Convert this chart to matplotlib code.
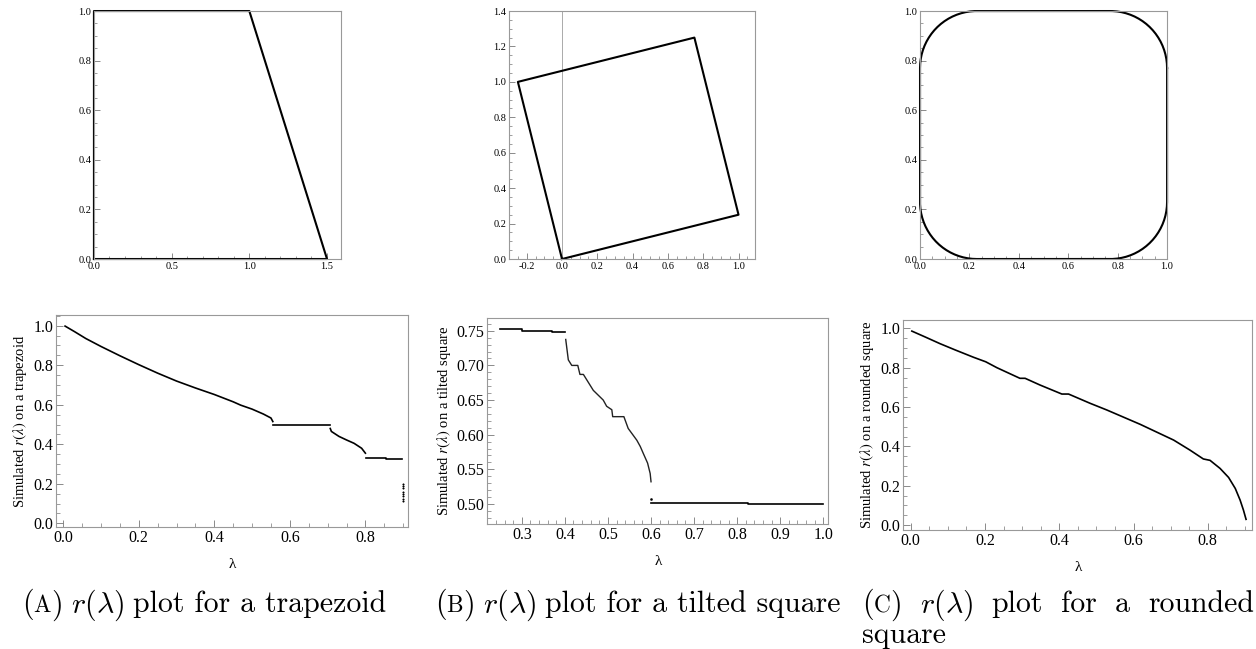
import numpy as np
import matplotlib.pyplot as plt
from matplotlib.ticker import MultipleLocator, FormatStrFormatter
from matplotlib.offsetbox import TextArea, HPacker, AnnotationBbox

plt.rcParams['font.family'] = ['Liberation Serif', 'DejaVu Serif']

# top row: the three shapes
trap_x = [0, 0, 1, 1.5, 0]
trap_y = [0, 1, 1, 0, 0]
tilt_x = [0, 1, 0.75, -0.25, 0]
tilt_y = [0, 0.25, 1.25, 1, 0]
round_r = 0.23  # corner radius of the rounded square

# bottom row: simulated r(lambda)
# trapezoid
tr_x1 = [0.005, 0.03, 0.06, 0.1, 0.15, 0.2, 0.25, 0.3, 0.35, 0.4, 0.45, 0.47, 0.5, 0.53, 0.55, 0.555]
tr_y1 = [0.998, 0.97, 0.935, 0.895, 0.848, 0.803, 0.76, 0.72, 0.685, 0.652, 0.615, 0.598, 0.578, 0.553, 0.533, 0.515]
tr_x2 = [0.555, 0.707]
tr_y2 = [0.50, 0.50]
tr_x3 = [0.707, 0.71, 0.73, 0.75, 0.77, 0.79, 0.80]
tr_y3 = [0.48, 0.465, 0.44, 0.422, 0.405, 0.38, 0.355]
tr_x4 = [0.802, 0.855, 0.855, 0.898]
tr_y4 = [0.333, 0.333, 0.328, 0.328]
tr_dot_x = [0.9, 0.9, 0.9, 0.9, 0.9, 0.9, 0.9, 0.9]
tr_dot_y = [0.199, 0.188, 0.177, 0.158, 0.148, 0.138, 0.125, 0.115]

# tilted square
ts_x1 = [0.25, 0.30, 0.30, 0.37, 0.37, 0.40]
ts_y1 = [0.752, 0.752, 0.750, 0.750, 0.748, 0.748]
ts_x2 = [0.402, 0.408, 0.416, 0.430, 0.435, 0.443, 0.466, 0.489, 0.497, 0.509, 0.511,
         0.537, 0.547, 0.567, 0.575, 0.582, 0.592, 0.598, 0.600]
ts_y2 = [0.7375, 0.708, 0.700, 0.700, 0.687, 0.687, 0.664, 0.650, 0.641, 0.636, 0.626,
         0.626, 0.609, 0.592, 0.583, 0.573, 0.559, 0.544, 0.532]
ts_dot_x = [0.600]
ts_dot_y = [0.507]
ts_x3 = [0.60, 0.825, 0.825, 1.0]
ts_y3 = [0.502, 0.502, 0.4995, 0.4995]

# rounded square
rs_x = [0.003, 0.039, 0.079, 0.12, 0.169, 0.202, 0.232, 0.294, 0.308, 0.348, 0.407, 0.425, 0.483,
        0.528, 0.618, 0.708, 0.752, 0.788, 0.806, 0.833, 0.856, 0.874, 0.887, 0.896, 0.903]
rs_y = [0.986, 0.956, 0.922, 0.89, 0.853, 0.830, 0.800, 0.746, 0.746, 0.712, 0.666, 0.666, 0.619,
        0.585, 0.512, 0.432, 0.381, 0.336, 0.329, 0.288, 0.242, 0.186, 0.127, 0.076, 0.029]

frame_col = '#999999'


def style(ax, fs, maj, mino):
	for s in ax.spines.values():
		s.set_color(frame_col)
		s.set_linewidth(0.8)
	ax.tick_params(which='both', direction='in', top=False, right=False,
				   color='#777777', labelsize=fs, pad=2)
	ax.tick_params(which='major', length=maj, width=0.6)
	ax.tick_params(which='minor', length=mino, width=0.5)


fig = plt.figure(figsize=(12.56, 6.49), dpi=100)

# (top) trapezoid
ax = fig.add_axes([0.0748, 0.6009, 0.1967, 0.3821])
ax.plot(trap_x, trap_y, color='black', lw=1.5, clip_on=False)
ax.set_xlim(0, 1.59)
ax.set_ylim(0, 1)
ax.xaxis.set_major_locator(MultipleLocator(0.5))
ax.xaxis.set_minor_locator(MultipleLocator(0.1))
ax.yaxis.set_major_locator(MultipleLocator(0.2))
ax.yaxis.set_minor_locator(MultipleLocator(0.05))
ax.xaxis.set_major_formatter(FormatStrFormatter('%.1f'))
ax.yaxis.set_major_formatter(FormatStrFormatter('%.1f'))
style(ax, 7.5, 4, 2)

# (top) tilted square
ax = fig.add_axes([0.4053, 0.6009, 0.1959, 0.3821])
ax.axvline(0, color='#aaaaaa', lw=0.7)
ax.plot(tilt_x, tilt_y, color='black', lw=1.5, clip_on=False)
ax.set_xlim(-0.30, 1.094)
ax.set_ylim(0, 1.4)
ax.xaxis.set_major_locator(MultipleLocator(0.2))
ax.xaxis.set_minor_locator(MultipleLocator(0.05))
ax.yaxis.set_major_locator(MultipleLocator(0.2))
ax.yaxis.set_minor_locator(MultipleLocator(0.05))
ax.xaxis.set_major_formatter(FormatStrFormatter('%.1f'))
ax.yaxis.set_major_formatter(FormatStrFormatter('%.1f'))
style(ax, 7.5, 4, 2)

# (top) rounded square
ax = fig.add_axes([0.7325, 0.6009, 0.1967, 0.3821])
r = round_r
centers = [(1 - r, 1 - r), (r, 1 - r), (r, r), (1 - r, r)]
px, py = [], []
for k, (cx, cy) in enumerate(centers):
	t = np.linspace(k * np.pi / 2, (k + 1) * np.pi / 2, 40)
	px.extend(cx + r * np.cos(t))
	py.extend(cy + r * np.sin(t))
px.append(px[0])
py.append(py[0])
ax.plot(px, py, color='black', lw=1.5, clip_on=False)
ax.set_xlim(0, 1)
ax.set_ylim(0, 1)
ax.xaxis.set_major_locator(MultipleLocator(0.2))
ax.xaxis.set_minor_locator(MultipleLocator(0.05))
ax.yaxis.set_major_locator(MultipleLocator(0.2))
ax.yaxis.set_minor_locator(MultipleLocator(0.05))
ax.xaxis.set_major_formatter(FormatStrFormatter('%.1f'))
ax.yaxis.set_major_formatter(FormatStrFormatter('%.1f'))
style(ax, 7.5, 4, 2)

lab_kw = dict(fontsize=10.5, math_fontfamily='stix')

# (bottom) trapezoid
ax = fig.add_axes([0.0446, 0.1884, 0.2803, 0.3262])
for xs, ys in [(tr_x1, tr_y1), (tr_x2, tr_y2), (tr_x3, tr_y3), (tr_x4, tr_y4)]:
	ax.plot(xs, ys, color='black', lw=1.2)
ax.plot(tr_dot_x, tr_dot_y, ls='none', marker='s', ms=0.5, color='black')
ax.set_xlim(-0.019, 0.913)
ax.set_ylim(-0.017, 1.054)
ax.xaxis.set_major_locator(MultipleLocator(0.2))
ax.xaxis.set_minor_locator(MultipleLocator(0.05))
ax.yaxis.set_major_locator(MultipleLocator(0.2))
ax.yaxis.set_minor_locator(MultipleLocator(0.05))
ax.xaxis.set_major_formatter(FormatStrFormatter('%.1f'))
ax.yaxis.set_major_formatter(FormatStrFormatter('%.1f'))
style(ax, 11.5, 5, 3)
ax.set_xlabel('λ', fontsize=11, labelpad=9)
ax.set_ylabel(r'Simulated $r(\lambda)$ on a trapezoid', labelpad=3, **lab_kw)

# (bottom) tilted square
ax = fig.add_axes([0.3880, 0.1926, 0.2715, 0.3169])
for xs, ys in [(ts_x1, ts_y1), (ts_x3, ts_y3)]:
	ax.plot(xs, ys, color='black', lw=1.2)
ax.plot(ts_x2, ts_y2, color='#222222', lw=1.0)
ax.plot(ts_dot_x, ts_dot_y, ls='none', marker='s', ms=0.8, color='black')
ax.set_xlim(0.220, 1.0116)
ax.set_ylim(0.471, 0.768)
ax.xaxis.set_major_locator(MultipleLocator(0.1))
ax.xaxis.set_minor_locator(MultipleLocator(0.02))
ax.yaxis.set_major_locator(MultipleLocator(0.05))
ax.yaxis.set_minor_locator(MultipleLocator(0.01))
ax.xaxis.set_major_formatter(FormatStrFormatter('%.1f'))
ax.yaxis.set_major_formatter(FormatStrFormatter('%.2f'))
style(ax, 11.5, 5, 3)
ax.set_xlabel('λ', fontsize=11, labelpad=9)
ax.set_ylabel(r'Simulated $r(\lambda)$ on a tilted square', labelpad=3, **lab_kw)

# (bottom) rounded square
ax = fig.add_axes([0.7192, 0.1834, 0.2779, 0.3231])
ax.plot(rs_x, rs_y, color='black', lw=1.2)
ax.set_xlim(-0.020, 0.920)
ax.set_ylim(-0.025, 1.041)
ax.xaxis.set_major_locator(MultipleLocator(0.2))
ax.xaxis.set_minor_locator(MultipleLocator(0.05))
ax.yaxis.set_major_locator(MultipleLocator(0.2))
ax.yaxis.set_minor_locator(MultipleLocator(0.05))
ax.xaxis.set_major_formatter(FormatStrFormatter('%.1f'))
ax.yaxis.set_major_formatter(FormatStrFormatter('%.1f'))
style(ax, 11.5, 5, 3)
ax.set_xlabel('λ', fontsize=11, labelpad=9)
ax.set_ylabel(r'Simulated $r(\lambda)$ on a rounded square', labelpad=3, **lab_kw)

# captions (Computer Modern, small caps letter)
cap_fs = 21.5
cap_kw = dict(fontsize=cap_fs, family='cmr10', math_fontfamily='cm')
sc_kw = dict(fontsize=cap_fs * 0.78, family='cmr10')


def caption(letter, words, x, y, sep):
	tag = HPacker(children=[TextArea('(', textprops=cap_kw),
							TextArea(letter, textprops=sc_kw),
							TextArea(')', textprops=cap_kw)],
				  sep=0, pad=0, align='baseline')
	kids = [tag, TextArea(r'$r(\lambda)$', textprops=cap_kw)]
	kids += [TextArea(w, textprops=cap_kw) for w in words]
	box = HPacker(children=kids, sep=sep, pad=0, align='baseline')
	ab = AnnotationBbox(box, (x, y), xycoords='figure fraction',
						box_alignment=(0, 0.5), frameon=False, pad=0)
	fig.add_artist(ab)


caption('A', ['plot for a trapezoid'], 22 / 1256, 0.068, 6)
caption('B', ['plot for a tilted square'], 435 / 1256, 0.068, 6)
caption('C', ['plot', 'for', 'a', 'rounded'], 862 / 1256, 0.068, 13)
fig.text(862 / 1256, 0.0216, 'square', ha='left', va='center', **cap_kw)

fig.savefig('out.png', dpi=100)
